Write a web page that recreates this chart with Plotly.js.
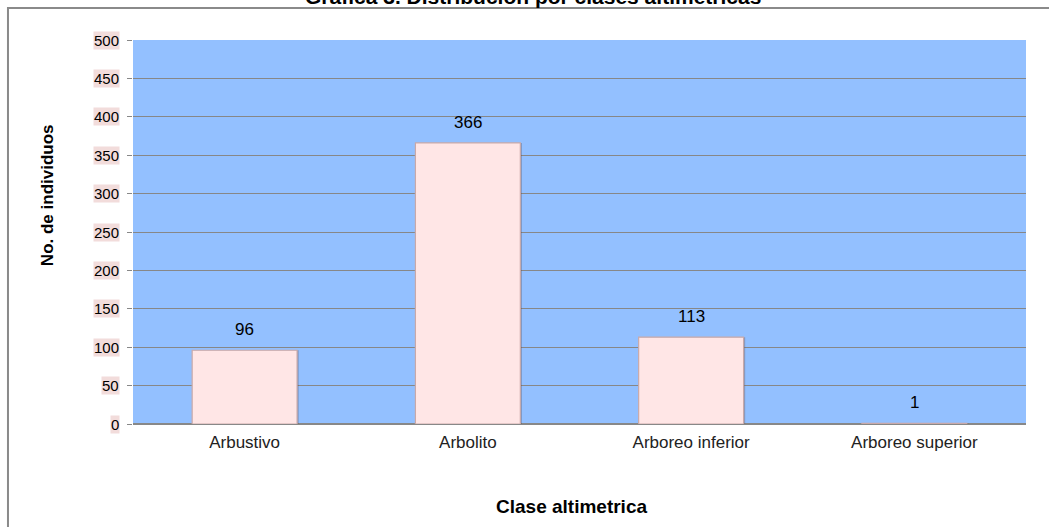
<!DOCTYPE html>
<html>
<head>
<meta charset="utf-8">
<script src="https://cdn.plot.ly/plotly-3.0.1.min.js"></script>
<style>html,body{margin:0;padding:0;background:#fff;}#chart{width:1049px;height:527px;}</style>
</head>
<body>
<div id="chart"></div>
<script>
const categories = ["Arbustivo", "Arbolito", "Arboreo inferior", "Arboreo superior"];
const values = [96, 366, 113, 1];
const yTicks = [0, 50, 100, 150, 200, 250, 300, 350, 400, 450, 500];
const yTickLabels = ["0", "50", "100", "150", "200", "250", "300", "350", "400", "450", "500"];
const chartTitle = "Grafica 3. Distribución por clases altimetricas";
const xTitle = "Clase altimetrica";
const yTitle = "No. de individuos";

const font = "Liberation Sans, Arial, sans-serif";

const shadow = {
  type: "bar", x: categories, y: values, width: 0.47, offset: -0.228,
  marker: {color: "rgba(90,70,70,0.35)", line: {width: 0}},
  hoverinfo: "skip", showlegend: false
};
const bars = {
  type: "bar", x: categories, y: values, width: 0.47, offset: -0.235,
  marker: {color: "#FFE6E6", line: {color: "#c9a9a9", width: 1.2}},
  showlegend: false
};

const annotations = [];
values.forEach((v, i) => annotations.push({
  x: categories[i], y: v, xref: "x", yref: "y", text: String(v), showarrow: false,
  yanchor: "bottom", yshift: 9, font: {family: font, size: 17, color: "#000"}
}));
yTicks.forEach((t, i) => annotations.push({
  x: 0, y: t, xref: "paper", yref: "y", text: yTickLabels[i], showarrow: false,
  xanchor: "right", yanchor: "middle", xshift: -13, bgcolor: "#F2DCDB", borderpad: 0,
  font: {family: font, size: 15, color: "#000"}
}));
annotations.push({
  x: 0.4916, y: -0.216, xref: "paper", yref: "paper", text: "<b>" + xTitle + "</b>",
  showarrow: false, xanchor: "center", yanchor: "middle",
  font: {family: font, size: 19, color: "#000"}
});
annotations.push({
  x: -0.0963, y: 0.596, xref: "paper", yref: "paper", text: "<b>" + yTitle + "</b>",
  showarrow: false, textangle: -90, xanchor: "center", yanchor: "middle",
  font: {family: font, size: 17, color: "#000"}
});
annotations.push({
  x: 0.448, y: 1.113, xref: "paper", yref: "paper", text: "<b>" + chartTitle + "</b>",
  showarrow: false, xanchor: "center", yanchor: "middle",
  font: {family: font, size: 21, color: "#000"}
});

const layout = {
  width: 1049, height: 527,
  margin: {l: 133, r: 23, t: 40, b: 103},
  paper_bgcolor: "#ffffff", plot_bgcolor: "#93C0FF",
  barmode: "overlay",
  xaxis: {
    type: "category", showgrid: false, zeroline: false, ticks: "",
    showline: false,
    tickfont: {family: font, size: 17, color: "#222"},
    ticklabelstandoff: 6
  },
  yaxis: {
    range: [0, 500], tickvals: yTicks, showticklabels: false,
    showgrid: true, gridcolor: "#878787", gridwidth: 1,
    zeroline: true, zerolinecolor: "#888", zerolinewidth: 2,
    ticks: "outside", ticklen: 5, tickcolor: "#888", showline: false
  },
  shapes: [{
    type: "rect", xref: "paper", yref: "paper",
    x0: -0.14, x1: 1.3, y0: -0.6, y1: 1.0833,
    line: {color: "#8a8a8a", width: 2}, fillcolor: "rgba(0,0,0,0)", layer: "below"
  }],
  annotations: annotations
};

Plotly.newPlot("chart", [shadow, bars], layout, {displayModeBar: false, staticPlot: true});
</script>
</body>
</html>
